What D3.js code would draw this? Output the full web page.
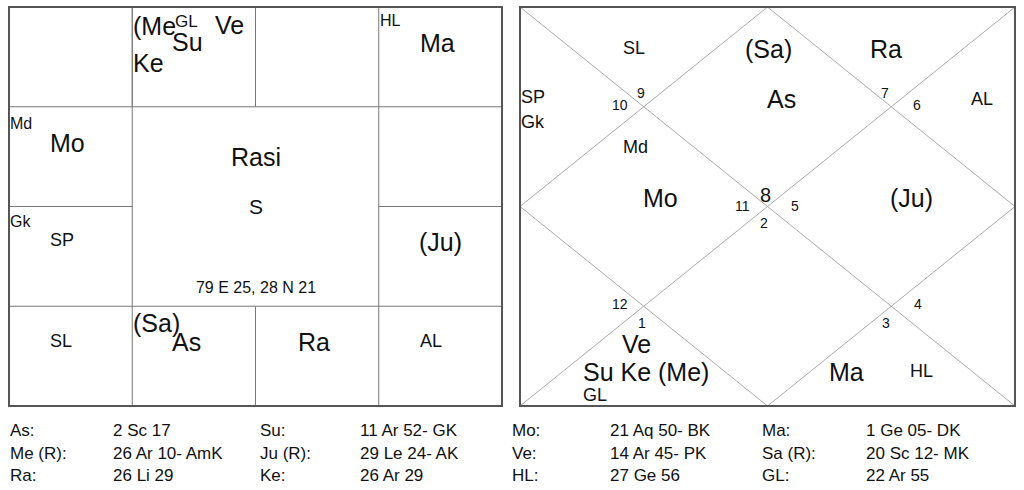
<!DOCTYPE html><html><head><meta charset="utf-8">
<script src="https://cdn.jsdelivr.net/npm/d3@7"></script>
<style>body{margin:0;background:#fff}svg text{font-family:'Liberation Sans','Arimo',Arial,Helvetica,sans-serif;fill:#111}</style></head><body>
<svg id="c" width="1024" height="490"></svg>
<script>
// labels: [text, x, y, size, anchor]
const southLabels=[["(Me",133,35,25,"start"],["Su",172,51,25,"start"],["GL",175,27,17,"start"],["Ve",215,34,25,"start"],["Ke",133,72,25,"start"],
["HL",380,26,16,"start"],["Ma",420,52,25,"start"],["Md",10,129,16,"start"],["Mo",50,152,25,"start"],
["Rasi",256,166,25,"middle"],["S",256,214,21,"middle"],["79 E 25, 28 N 21",256,293,16,"middle"],
["Gk",10,227,16,"start"],["SP",50,246,18,"start"],["(Ju)",419,251,25,"start"],
["SL",50,347,18,"start"],["(Sa)",133,332,25,"start"],["As",172,351,25,"start"],["Ra",298,351,25,"start"],["AL",420,347,18,"start"]];
const northLabels=[["SL",623,54,18,"start"],["(Sa)",745,58,25,"start"],["Ra",870,58,25,"start"],["SP",521,103,18,"start"],["Gk",521,128,18,"start"],
["10",612,110,14,"start"],["9",637,98,14,"start"],["As",767,108,25,"start"],["7",881,98,14,"start"],["6",913,110,14,"start"],["AL",971,105,18,"start"],
["Md",623,153,18,"start"],["Mo",643,207,25,"start"],["11",735,211,14,"start"],["8",760,202,20,"start"],["5",791,211,14,"start"],["2",760,228,14,"start"],
["(Ju)",890,207,25,"start"],["12",612,309,14,"start"],["1",638,328,14,"start"],["Ve",622,353,25,"start"],["Su Ke (Me)",583,381,25,"start"],["GL",583,401,18,"start"],
["3",882,328,14,"start"],["4",914,309,14,"start"],["Ma",829,381,25,"start"],["HL",910,377,18,"start"]];
const tableRows=[["As:","2 Sc 17","Su:","11 Ar 52- GK","Mo:","21 Aq 50- BK","Ma:","1 Ge 05- DK"],
["Me (R):","26 Ar 10- AmK","Ju (R):","29 Le 24- AK","Ve:","14 Ar 45- PK","Sa (R):","20 Sc 12- MK"],
["Ra:","26 Li 29","Ke:","26 Ar 29","HL:","27 Ge 56","GL:","22 Ar 55"]];
const tableCols=[10,113,260,360,512,610,762,866];

const F="'Liberation Sans', Arimo, Arial, sans-serif";
const svg=d3.select("#c");
const sx=d3.scaleLinear().domain([0,4]).range([9,502]);
const sy=d3.scaleLinear().domain([0,4]).range([7,406]);
const g=svg.append("g");
const segs=[[1,0,1,1],[2,0,2,1],[3,0,3,4],[1,0,1,4],[0,1,4,1],[0,3,4,3],[0,2,1,2],[3,2,4,2],[2,3,2,4]];
g.selectAll("line").data(segs).join("line").attr("x1",d=>sx(d[0])).attr("y1",d=>sy(d[1])).attr("x2",d=>sx(d[2])).attr("y2",d=>sy(d[3])).attr("stroke","#777").attr("stroke-width",1);
g.append("rect").attr("x",sx(0)).attr("y",sy(0)).attr("width",sx(4)-sx(0)).attr("height",sy(4)-sy(0)).attr("fill","none").attr("stroke","#555").attr("stroke-width",2);
const nx=d3.scaleLinear().domain([0,2]).range([520,1015]);
const ny=d3.scaleLinear().domain([0,2]).range([7,406]);
const nsegs=[[0,0,2,2],[2,0,0,2],[1,0,2,1],[2,1,1,2],[1,2,0,1],[0,1,1,0]];
svg.selectAll(".n").data(nsegs).join("line").attr("x1",d=>nx(d[0])).attr("y1",d=>ny(d[1])).attr("x2",d=>nx(d[2])).attr("y2",d=>ny(d[3])).attr("stroke","#aaa").attr("stroke-width",1);
svg.append("rect").attr("x",nx(0)).attr("y",ny(0)).attr("width",nx(2)-nx(0)).attr("height",ny(2)-ny(0)).attr("fill","none").attr("stroke","#555").attr("stroke-width",2);
function labels(arr){svg.append("g").selectAll("text").data(arr).join("text").attr("font-family",F).attr("x",d=>d[1]).attr("y",d=>d[2]).attr("font-size",d=>d[3]).attr("text-anchor",d=>d[4]).text(d=>d[0]);}
labels(southLabels);labels(northLabels);
const rowY=[436,459,481];
tableRows.forEach((r,i)=>svg.append("g").selectAll("text").data(r).join("text").attr("font-family",F).attr("x",(d,j)=>tableCols[j]).attr("y",rowY[i]).attr("font-size",17).text(d=>d));
</script></body></html>
